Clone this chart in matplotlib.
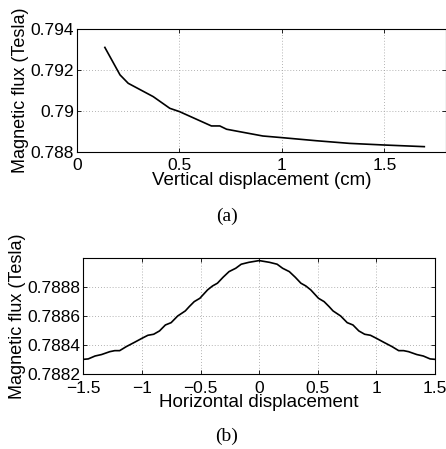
import numpy as np
import matplotlib
matplotlib.use("Agg")
import matplotlib.pyplot as plt

# (a) flux vs vertical displacement
vertX = [0.136, 0.21, 0.25, 0.372, 0.453, 0.50, 0.656, 0.697, 0.73, 0.794, 0.907, 1.0, 1.167, 1.33, 1.5, 1.695]
vertFlux = [0.7931, 0.79176, 0.79135, 0.7907, 0.79013, 0.78997, 0.78927, 0.78927, 0.78911, 0.78899,
            0.78878, 0.7887, 0.78855, 0.78842, 0.78834, 0.78826]

# (b) flux vs horizontal displacement, left half, right half mirrored
horizXLeft = [-1.5, -1.458, -1.40, -1.345, -1.274, -1.232, -1.19, -1.133, -1.062, -1.0, -0.949, -0.90,
              -0.85, -0.80, -0.751, -0.695, -0.63, -0.596, -0.554, -0.506, -0.44, -0.398, -0.356,
              -0.308, -0.257, -0.20, -0.153, -0.088]
horizFluxLeft = [0.788303, 0.788306, 0.788326, 0.788336, 0.788356, 0.788363, 0.788363, 0.788391,
                 0.788421, 0.788448, 0.788469, 0.788476, 0.788499, 0.78854, 0.788556, 0.788602,
                 0.788637, 0.788667, 0.788701, 0.788724, 0.788782, 0.788809, 0.788828, 0.788869,
                 0.788908, 0.788931, 0.788959, 0.788972]
horizPeak = 0.788984

horizX = horizXLeft + [0.0] + [-v for v in horizXLeft[::-1]]
horizFlux = horizFluxLeft + [horizPeak] + horizFluxLeft[::-1]

plt.rcParams["font.family"] = ["Liberation Sans", "DejaVu Sans"]

fig = plt.figure(figsize=(4.46, 4.49), dpi=100)

def styleAxes(ax):
    ax.tick_params(direction="in", top=True, right=True, length=3, width=0.6, labelsize=12.5)
    ax.tick_params(axis="x", pad=4.5)
    ax.tick_params(axis="y", pad=2)
    ax.grid(True, linestyle=(0, (1, 2.5)), color="#9a9a9a", linewidth=0.6)
    for s in ax.spines.values():
        s.set_linewidth(0.8)

ax1 = fig.add_axes([0.1726, 0.6615, 0.827, 0.274])
ax1.plot(vertX, vertFlux, color="black", linewidth=1.2)
ax1.set_xlim(0, 1.8)
ax1.set_ylim(0.788, 0.794)
ax1.set_xticks([0, 0.5, 1, 1.5])
ax1.set_xticklabels(["0", "0.5", "1", "1.5"])
ax1.set_yticks([0.788, 0.790, 0.792, 0.794])
ax1.set_yticklabels(["0.788", "0.79", "0.792", "0.794"])
styleAxes(ax1)
ax1.set_xlabel("Vertical displacement (cm)", labelpad=-1, fontsize=13.5)
ax1.set_ylabel("Magnetic flux (Tesla)", labelpad=1, fontsize=13)
fig.text(0.509, 0.519, "(a)", family="Liberation Serif", fontsize=14, ha="center", va="center")

ax2 = fig.add_axes([0.1868, 0.1664, 0.7886, 0.2584])
ax2.plot(horizX, horizFlux, color="black", linewidth=1.2)
ax2.set_xlim(-1.5, 1.5)
ax2.set_ylim(0.7882, 0.7890)
ax2.set_xticks([-1.5, -1, -0.5, 0, 0.5, 1, 1.5])
ax2.set_xticklabels(["\u22121.5", "\u22121", "\u22120.5", "0", "0.5", "1", "1.5"])
ax2.set_yticks([0.7882, 0.7884, 0.7886, 0.7888])
ax2.set_yticklabels(["0.7882", "0.7884", "0.7886", "0.7888"])
styleAxes(ax2)
ax2.set_xlabel("Horizontal displacement", labelpad=-1, fontsize=13.5)
ax2.set_ylabel("Magnetic flux (Tesla)", labelpad=1, fontsize=13)
fig.text(0.509, 0.029, "(b)", family="Liberation Serif", fontsize=14, ha="center", va="center")

fig.savefig("out.png", dpi=100)
